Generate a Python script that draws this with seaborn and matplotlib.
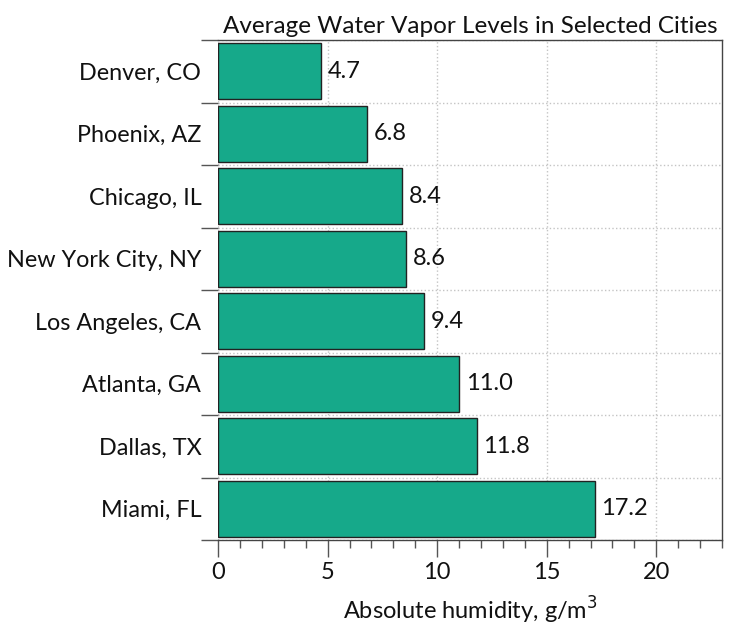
import numpy as np
import pandas as pd
import seaborn as sns
import matplotlib.pyplot as plt
from matplotlib.ticker import MultipleLocator, FixedLocator

cities = ['Denver, CO', 'Phoenix, AZ', 'Chicago, IL', 'New York City, NY',
          'Los Angeles, CA', 'Atlanta, GA', 'Dallas, TX', 'Miami, FL']
humidity = [4.7, 6.8, 8.4, 8.6, 9.4, 11.0, 11.8, 17.2]

df = pd.DataFrame({'city': cities, 'humidity': humidity})

sns.set_style('white')
plt.rcParams['font.family'] = ['Lato', 'DejaVu Sans']

fig = plt.figure(figsize=(7.5, 6.28), dpi=100)
ax = fig.add_axes([0.2907, 0.1401, 0.672, 0.7962])

sns.barplot(data=df, y='city', x='humidity', color='#16a98a', edgecolor='#222222',
            linewidth=1.0, width=0.9, saturation=1, ax=ax)

# value labels next to each bar
for i, v in enumerate(humidity):
    ax.text(v + 0.3, i, f'{v:.1f}', va='center', ha='left', fontsize=17, color='#111111')

ax.set_xlim(0, 23)
ax.set_ylim(len(cities) - 0.5, -0.5)

# y: labels at centres, ticks + grid at boundaries
ax.yaxis.set_minor_locator(FixedLocator(np.arange(-0.5, len(cities), 1)))
ax.tick_params(axis='y', which='major', length=0, pad=12, labelsize=16.8, labelcolor='#111111')
ax.tick_params(axis='y', which='minor', length=12, width=1, color='#555555', direction='out', left=True)

ax.xaxis.set_major_locator(MultipleLocator(5))
ax.xaxis.set_minor_locator(MultipleLocator(1))
ax.tick_params(axis='x', which='major', length=12, width=1, color='#555555', direction='out',
               bottom=True, labelsize=17, labelcolor='#111111', pad=4)
ax.tick_params(axis='x', which='minor', length=6, width=1, color='#555555', direction='out', bottom=True)

ax.grid(False)
ax.grid(True, axis='x', which='major', linestyle=':', color='#c4c4c4', linewidth=1)
ax.grid(True, axis='y', which='minor', linestyle=':', color='#c4c4c4', linewidth=1)
ax.set_axisbelow(True)

for s in ['top', 'right', 'bottom']:
    ax.spines[s].set_color('#444444')
    ax.spines[s].set_linewidth(1.0)
ax.spines['left'].set_visible(False)

ax.set_ylabel('')
ax.set_xlabel('Absolute humidity, g/m$^3$', fontsize=17, color='#111111', labelpad=8)
ax.set_title('Average Water Vapor Levels in Selected Cities', fontsize=17.5, color='#111111', pad=5)

fig.savefig('out.png', dpi=100)
